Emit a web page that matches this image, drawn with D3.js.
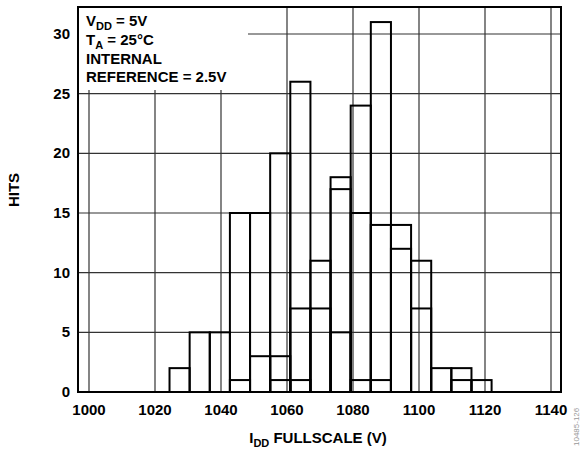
<!DOCTYPE html>
<html lang="en">
<head>
  <meta charset="UTF-8">
  <title>Histogram IDD fullscale</title>
  <script src="https://d3js.org/d3.v7.min.js"></script>
  <style>
    body { margin: 0; background: #fff; }
    svg { font-family: "Liberation Sans", Arial, sans-serif; font-weight: bold; }
  </style>
</head>
<body>
  <div id="chart"></div>
  <script>
    // bin left edges (V) and bin width
    const binStarts = [1024.4, 1030.5, 1036.6, 1042.7, 1048.8, 1054.9, 1061.0, 1067.1,
                       1073.2, 1079.3, 1085.4, 1091.5, 1097.6, 1103.7, 1109.8, 1115.9];
    const binWidth = 6.1;

    // three overlaid histograms (hits per bin)
    const hitsA = [2, 5, 5, 15, 15, 20, 26, 11, 18, 24, 31, 14, 11, 2, 2, 1];
    const hitsB = [0, 0, 0, 1, 3, 3, 7, 7, 17, 15, 14, 12, 7, 0, 1, 0];
    const hitsC = [0, 0, 0, 0, 0, 1, 1, 0, 5, 1, 1, 0, 0, 0, 0, 0];

    const xTicks = [1000, 1020, 1040, 1060, 1080, 1100, 1120, 1140];
    const yTicks = [0, 5, 10, 15, 20, 25, 30];

    const width = 584, height = 450;
    const frame = { left: 78, top: 7, right: 561, bottom: 392 };

    const svg = d3.select("#chart").append("svg")
      .attr("width", width)
      .attr("height", height);

    const x = d3.scaleLinear().domain([1000, 1140]).range([89, 551]);
    const y = d3.scaleLinear().domain([0, 30]).range([392, 34]);

    // grid
    svg.append("g")
      .selectAll("line.v")
      .data(xTicks)
      .join("line")
      .attr("x1", d => x(d)).attr("x2", d => x(d))
      .attr("y1", frame.top).attr("y2", frame.bottom)
      .attr("stroke", "#333").attr("stroke-width", 1.2);

    svg.append("g")
      .selectAll("line.h")
      .data(yTicks.slice(1))
      .join("line")
      .attr("x1", frame.left).attr("x2", frame.right)
      .attr("y1", d => y(d)).attr("y2", d => y(d))
      .attr("stroke", "#333").attr("stroke-width", 1.2);

    // white box behind the conditions text
    svg.append("rect")
      .attr("x", frame.left + 1).attr("y", frame.top + 1)
      .attr("width", 169).attr("height", 82)
      .attr("fill", "#fff");

    // bars, outline only
    [hitsA, hitsB, hitsC].forEach(series => {
      svg.append("g")
        .selectAll("rect")
        .data(series.map((v, i) => ({ x0: binStarts[i], v })).filter(d => d.v > 0))
        .join("rect")
        .attr("x", d => x(d.x0))
        .attr("y", d => y(d.v))
        .attr("width", d => x(d.x0 + binWidth) - x(d.x0))
        .attr("height", d => y(0) - y(d.v))
        .attr("fill", "none")
        .attr("stroke", "#000")
        .attr("stroke-width", 2);
    });

    // frame
    svg.append("rect")
      .attr("x", frame.left).attr("y", frame.top)
      .attr("width", frame.right - frame.left)
      .attr("height", frame.bottom - frame.top)
      .attr("fill", "none")
      .attr("stroke", "#000").attr("stroke-width", 2);

    // tick labels
    svg.append("g")
      .selectAll("text")
      .data(xTicks)
      .join("text")
      .attr("x", d => x(d))
      .attr("y", 415)
      .attr("text-anchor", "middle")
      .attr("font-size", 15)
      .text(d => d);

    svg.append("g")
      .selectAll("text")
      .data(yTicks)
      .join("text")
      .attr("x", 70)
      .attr("y", d => y(d) + 5)
      .attr("text-anchor", "end")
      .attr("font-size", 15)
      .text(d => d);

    // axis titles
    const xt = svg.append("text")
      .attr("x", 318).attr("y", 443)
      .attr("text-anchor", "middle")
      .attr("font-size", 15);
    xt.append("tspan").text("I");
    xt.append("tspan").attr("font-size", 11).attr("dy", 4).text("DD");
    xt.append("tspan").attr("dy", -4).text(" FULLSCALE (V)");

    svg.append("text")
      .attr("transform", "translate(19,190) rotate(-90)")
      .attr("text-anchor", "middle")
      .attr("font-size", 15)
      .text("HITS");

    // conditions text
    const note = svg.append("g").attr("font-size", 15);
    const l1 = note.append("text").attr("x", 86).attr("y", 26);
    l1.append("tspan").text("V");
    l1.append("tspan").attr("font-size", 11).attr("dy", 4).text("DD");
    l1.append("tspan").attr("dy", -4).text(" = 5V");
    const l2 = note.append("text").attr("x", 86).attr("y", 45);
    l2.append("tspan").text("T");
    l2.append("tspan").attr("font-size", 11).attr("dy", 4).text("A");
    l2.append("tspan").attr("dy", -4).text(" = 25°C");
    note.append("text").attr("x", 86).attr("y", 64).text("INTERNAL");
    note.append("text").attr("x", 86).attr("y", 82).text("REFERENCE = 2.5V");

    // figure id
    svg.append("text")
      .attr("transform", "translate(579,446) rotate(-90)")
      .attr("font-size", 8)
      .attr("font-weight", "normal")
      .attr("fill", "#999")
      .text("10485-126");
  </script>
</body>
</html>
